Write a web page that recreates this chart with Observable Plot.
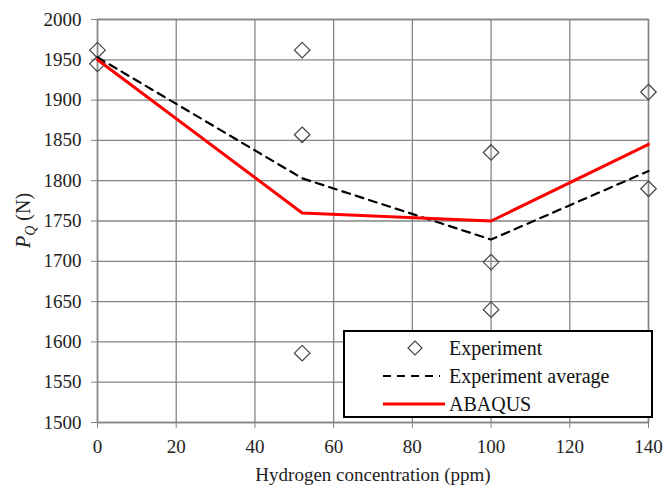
<!DOCTYPE html>
<html><head><meta charset="utf-8">
<script src="https://cdn.jsdelivr.net/npm/d3@7"></script>
<script src="https://cdn.jsdelivr.net/npm/@observablehq/plot@0.6"></script>
<style>
body{margin:0;background:#fff}
#wrap{position:relative;width:664px;height:492px}
#wrap, #wrap svg, #wrap svg text{font-family:"Liberation Serif","Times New Roman","DejaVu Serif","Noto Serif",Times,serif !important}
#legend{position:absolute;left:343px;top:330px;width:310px;height:88px;border:2px solid #000;background:#fff;box-sizing:border-box}
#legend .row{position:absolute;left:0;height:28px;display:flex;align-items:center;font-size:20px;color:#111}
#legend svg{width:104px;height:28px;flex:none}
</style>
</head><body><div id="wrap"></div>
<script>
const expX = [0, 0, 52, 52, 52, 100, 100, 100, 140, 140];
const expY = [1962, 1945, 1962, 1857, 1586, 1835, 1699, 1640, 1910, 1790];
const avgX = [0, 52, 100, 140];
const avgY = [1953, 1803, 1727, 1812];
const abqX = [0, 52, 100, 140];
const abqY = [1950, 1760, 1750, 1845];
const xTicks = [0, 20, 40, 60, 80, 100, 120, 140];
const yTicks = [1500, 1550, 1600, 1650, 1700, 1750, 1800, 1850, 1900, 1950, 2000];
const xLabel = "Hydrogen concentration (ppm)";
const legendItems = ["Experiment", "Experiment average", "ABAQUS"];

const exp = expX.map((x, i) => ({x, y: expY[i]}));
const avg = avgX.map((x, i) => ({x, y: avgY[i]}));
const abq = abqX.map((x, i) => ({x, y: abqY[i]}));

const ff = "'Liberation Serif', 'Times New Roman', serif";
const grid = "#858585";
const chart = Plot.plot({
  width: 664, height: 492,
  marginLeft: 97, marginRight: 16, marginTop: 19, marginBottom: 70,
  style: {fontFamily: ff, fontSize: "19px", color: "#222", background: "#fff"},
  x: {domain: [0, 140], ticks: xTicks, label: null},
  y: {domain: [1500, 2000], ticks: yTicks, label: null},
  marks: [
    Plot.gridX(xTicks, {stroke: grid, strokeOpacity: 1, strokeWidth: 1.3}),
    Plot.gridY(yTicks, {stroke: grid, strokeOpacity: 1, strokeWidth: 1.3}),
    Plot.frame({stroke: grid, strokeWidth: 1.5}),
    Plot.axisX(xTicks, {tickSize: 6, tickPadding: 11, tickFormat: d3.format("d"), stroke: grid, strokeOpacity: 1, fill: "#222", fontSize: 19, fontFamily: ff, label: null}),
    Plot.axisY(yTicks, {tickSize: 6, tickPadding: 10, tickFormat: d3.format("d"), stroke: grid, strokeOpacity: 1, fill: "#222", fontSize: 19, fontFamily: ff, label: null}),
    Plot.text([xLabel], {frameAnchor: "bottom", dy: 45, fontSize: 19, fontFamily: ff, fill: "#222", lineAnchor: "top"}),
    Plot.dot(exp, {x: "x", y: "y", symbol: "diamond2", r: 7, stroke: "#444", strokeWidth: 1.2, fill: "#fff", fillOpacity: 0}),
    Plot.line(avg, {x: "x", y: "y", stroke: "#000", strokeWidth: 2.2, strokeDasharray: "8,6"}),
    Plot.line(abq, {x: "x", y: "y", stroke: "#ff0000", strokeWidth: 3})
  ]
});
const wrap = document.getElementById("wrap");
wrap.appendChild(chart);

// Y axis label: italic P with subscript Q
const svg = d3.select(chart);
const yl = svg.append("text")
  .attr("transform", `translate(30,${(19 + 422) / 2}) rotate(-90)`)
  .attr("text-anchor", "middle")
  .attr("font-family", ff)
  .attr("font-size", 20)
  .attr("fill", "#222");
yl.append("tspan").attr("font-style", "italic").text("P");
yl.append("tspan").attr("font-style", "italic").attr("font-size", 14).attr("dy", 5).text("Q");
yl.append("tspan").attr("dy", -5).text(" (N)");

// Legend
const lg = document.createElement("div");
lg.id = "legend";
const rowsTop = [2, 30, 58];
legendItems.forEach((name, i) => {
  const row = document.createElement("div");
  row.className = "row";
  row.style.top = rowsTop[i] + "px";
  let icon;
  if (i === 0) icon = `<svg><path d="M70,7 L77,14 L70,21 L63,14 Z" fill="none" stroke="#444" stroke-width="1.2"/></svg>`;
  else if (i === 1) icon = `<svg><line x1="38" x2="95" y1="14" y2="14" stroke="#000" stroke-width="2.2" stroke-dasharray="8,6"/></svg>`;
  else icon = `<svg><line x1="38" x2="100" y1="14" y2="14" stroke="#ff0000" stroke-width="3"/></svg>`;
  row.innerHTML = icon + `<span>${name}</span>`;
  lg.appendChild(row);
});
wrap.appendChild(lg);
</script>
</body></html>
